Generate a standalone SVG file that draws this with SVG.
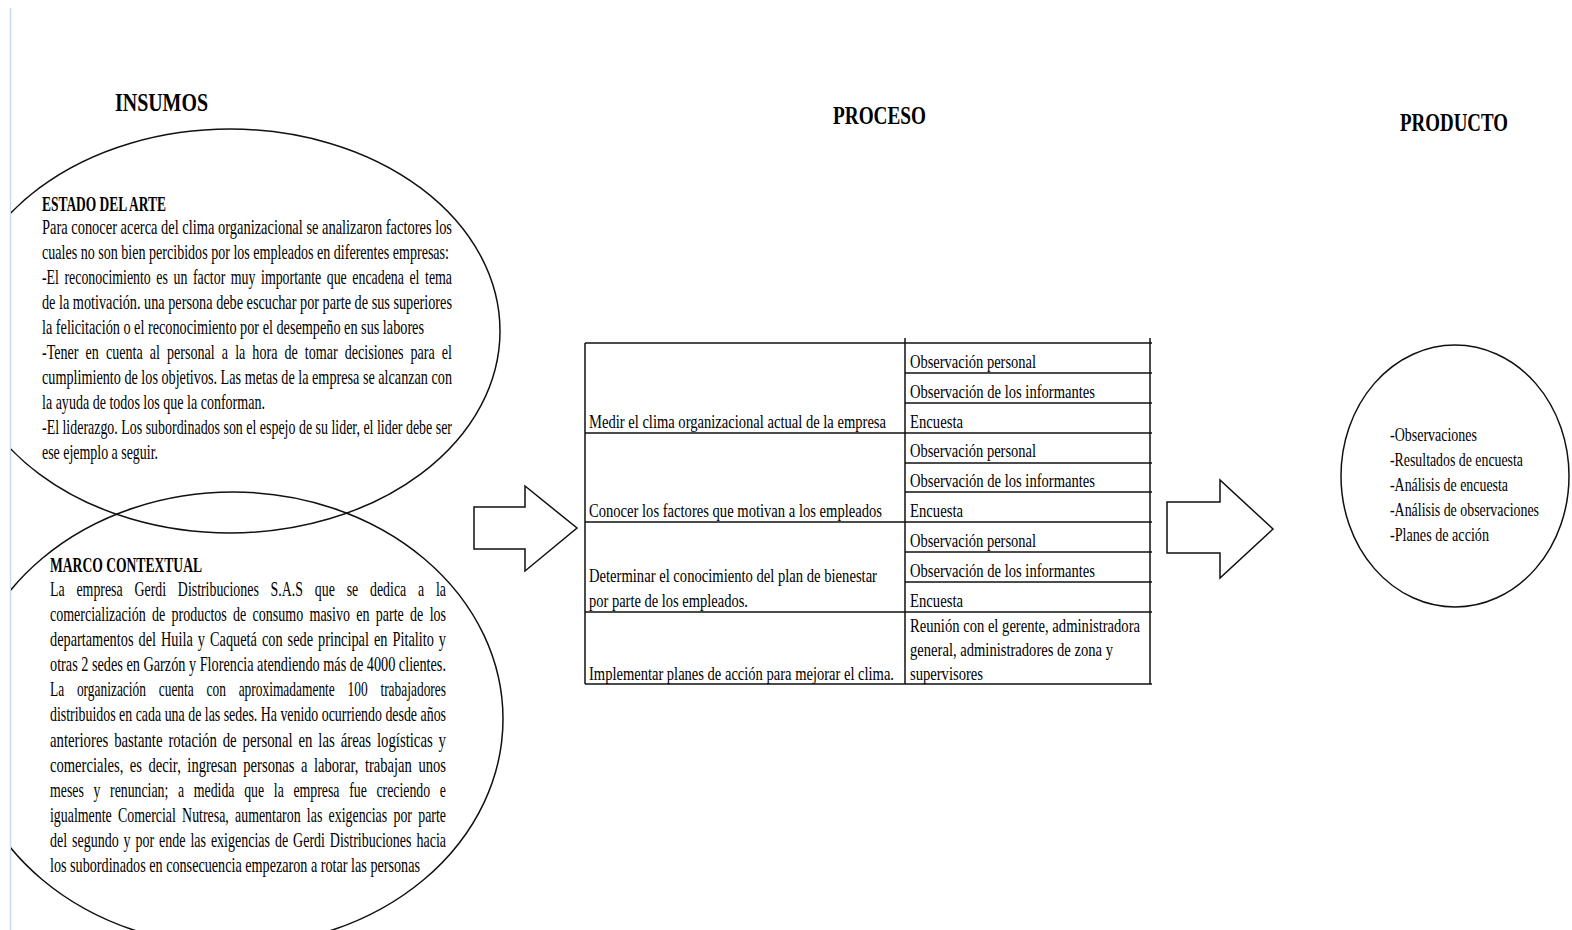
<svg xmlns="http://www.w3.org/2000/svg" width="1572" height="930" viewBox="0 0 1572 930">
<style>
text{font-family:"Liberation Serif","Times New Roman",serif;fill:#000}
.h{font-size:25px;font-weight:bold}
.t{font-size:20px;font-weight:bold}
.b{font-size:20px}
.c{font-size:19px}
.p{font-size:18px}
.sh{fill:#fff;stroke:#111;stroke-width:1.5}
.ln{stroke:#111;stroke-width:1.5;fill:none}
</style>
<defs>
<clipPath id="page"><rect x="11" y="0" width="1561" height="930"/></clipPath>
</defs>
<rect width="1572" height="930" fill="#fff"/>
<line x1="10.5" y1="8" x2="10.5" y2="930" stroke="#c9d8ec" stroke-width="1.5"/>

<g id="headings">
<text class="h" x="115" y="111" textLength="93" lengthAdjust="spacingAndGlyphs">INSUMOS</text>
<text class="h" x="833" y="124" textLength="93" lengthAdjust="spacingAndGlyphs">PROCESO</text>
<text class="h" x="1400" y="131" textLength="108" lengthAdjust="spacingAndGlyphs">PRODUCTO</text>
</g>

<g id="estado-del-arte">
<ellipse class="ln" cx="230" cy="331" rx="270" ry="202" clip-path="url(#page)"/>
<g transform="scale(0.75,1)">
<text class="t" x="56" y="211" textLength="165.33" lengthAdjust="spacingAndGlyphs">ESTADO DEL ARTE</text>
<text class="b" x="56" y="234" textLength="546.67" lengthAdjust="spacingAndGlyphs">Para conocer acerca del clima organizacional se analizaron factores los</text>
<text class="b" x="56" y="259" textLength="542.67" lengthAdjust="spacingAndGlyphs">cuales no son bien percibidos por los empleados en diferentes empresas:</text>
<text class="b" x="56" y="284" textLength="546.67" lengthAdjust="spacingAndGlyphs" word-spacing="3">-El reconocimiento es un factor muy importante que encadena el tema</text>
<text class="b" x="56" y="309" textLength="546.67" lengthAdjust="spacingAndGlyphs">de la motivación. una persona debe escuchar por parte de sus superiores</text>
<text class="b" x="56" y="334" textLength="509.33" lengthAdjust="spacingAndGlyphs">la felicitación o el reconocimiento por el desempeño en sus labores</text>
<text class="b" x="56" y="359" textLength="546.67" lengthAdjust="spacingAndGlyphs" word-spacing="5">-Tener en cuenta al personal a la hora de tomar decisiones para el</text>
<text class="b" x="56" y="384" textLength="546.67" lengthAdjust="spacingAndGlyphs">cumplimiento de los objetivos. Las metas de la empresa se alcanzan con</text>
<text class="b" x="56" y="409" textLength="297.33" lengthAdjust="spacingAndGlyphs">la ayuda de todos los que la conforman.</text>
<text class="b" x="56" y="434" textLength="546.67" lengthAdjust="spacingAndGlyphs">-El liderazgo. Los subordinados son el espejo de su lider, el lider debe ser</text>
<text class="b" x="56" y="459" textLength="154.67" lengthAdjust="spacingAndGlyphs">ese ejemplo a seguir.</text>
</g>
</g>

<g id="marco-contextual">
<ellipse class="ln" cx="233" cy="719" rx="270" ry="227" clip-path="url(#page)"/>
<g transform="scale(0.75,1)">
<text class="t" x="66.67" y="572" textLength="202.67" lengthAdjust="spacingAndGlyphs">MARCO CONTEXTUAL</text>
<text class="b" x="66.67" y="596" textLength="528" lengthAdjust="spacingAndGlyphs" word-spacing="12">La empresa Gerdi Distribuciones S.A.S que se dedica a la</text>
<text class="b" x="66.67" y="621" textLength="528" lengthAdjust="spacingAndGlyphs" word-spacing="4">comercialización de productos de consumo masivo en parte de los</text>
<text class="b" x="66.67" y="646" textLength="528" lengthAdjust="spacingAndGlyphs" word-spacing="2">departamentos del Huila y Caquetá con sede principal en Pitalito y</text>
<text class="b" x="66.67" y="671" textLength="528" lengthAdjust="spacingAndGlyphs">otras 2 sedes en Garzón y Florencia atendiendo más de 4000 clientes.</text>
<text class="b" x="66.67" y="696" textLength="528" lengthAdjust="spacingAndGlyphs" word-spacing="14">La organización cuenta con aproximadamente 100 trabajadores</text>
<text class="b" x="66.67" y="721" textLength="528" lengthAdjust="spacingAndGlyphs">distribuidos en cada una de las sedes. Ha venido ocurriendo desde años</text>
<text class="b" x="66.67" y="747" textLength="528" lengthAdjust="spacingAndGlyphs" word-spacing="3">anteriores bastante rotación de personal en las áreas logísticas y</text>
<text class="b" x="66.67" y="772" textLength="528" lengthAdjust="spacingAndGlyphs" word-spacing="4">comerciales, es decir, ingresan personas a laborar, trabajan unos</text>
<text class="b" x="66.67" y="797" textLength="528" lengthAdjust="spacingAndGlyphs" word-spacing="9">meses y renuncian; a medida que la empresa fue creciendo e</text>
<text class="b" x="66.67" y="822" textLength="528" lengthAdjust="spacingAndGlyphs" word-spacing="4">igualmente Comercial Nutresa, aumentaron las exigencias por parte</text>
<text class="b" x="66.67" y="847" textLength="528" lengthAdjust="spacingAndGlyphs" word-spacing="2">del segundo y por ende las exigencias de Gerdi Distribuciones hacia</text>
<text class="b" x="66.67" y="872" textLength="493.33" lengthAdjust="spacingAndGlyphs">los subordinados en consecuencia empezaron a rotar las personas</text>
</g>
</g>

<g id="connectors">
<polygon class="sh" points="474,507 525,507 525,486 577,528 525,571 525,549 474,549"/>
<polygon class="sh" points="1167,502 1220,502 1220,480 1273,529 1220,578 1220,553 1167,553"/>
</g>

<g id="proceso-table">
<g class="ln">
<line x1="585" y1="343" x2="1152" y2="343"/>
<line x1="585" y1="343" x2="585" y2="684"/>
<line x1="905" y1="338" x2="905" y2="684"/>
<line x1="1150" y1="338" x2="1150" y2="684"/>
<line x1="905" y1="373" x2="1152" y2="373"/>
<line x1="905" y1="403" x2="1152" y2="403"/>
<line x1="585" y1="433" x2="1152" y2="433"/>
<line x1="905" y1="463" x2="1152" y2="463"/>
<line x1="905" y1="492" x2="1152" y2="492"/>
<line x1="585" y1="522" x2="1152" y2="522"/>
<line x1="905" y1="552" x2="1152" y2="552"/>
<line x1="905" y1="582" x2="1152" y2="582"/>
<line x1="585" y1="612" x2="1152" y2="612"/>
<line x1="585" y1="684" x2="1152" y2="684"/>
</g>
<g transform="scale(0.75,1)">
<text class="c" x="785.33" y="428" textLength="396" lengthAdjust="spacingAndGlyphs">Medir el clima organizacional actual de la empresa</text>
<text class="c" x="1213.33" y="368" textLength="168" lengthAdjust="spacingAndGlyphs">Observación personal</text>
<text class="c" x="1213.33" y="398" textLength="246.67" lengthAdjust="spacingAndGlyphs">Observación de los informantes</text>
<text class="c" x="1213.33" y="428" textLength="70.67" lengthAdjust="spacingAndGlyphs">Encuesta</text>
<text class="c" x="785.33" y="517" textLength="390.67" lengthAdjust="spacingAndGlyphs">Conocer los factores que motivan a los empleados</text>
<text class="c" x="1213.33" y="457" textLength="168" lengthAdjust="spacingAndGlyphs">Observación personal</text>
<text class="c" x="1213.33" y="487" textLength="246.67" lengthAdjust="spacingAndGlyphs">Observación de los informantes</text>
<text class="c" x="1213.33" y="517" textLength="70.67" lengthAdjust="spacingAndGlyphs">Encuesta</text>
<text class="c" x="785.33" y="582" textLength="384" lengthAdjust="spacingAndGlyphs">Determinar el conocimiento del plan de bienestar</text>
<text class="c" x="785.33" y="607" textLength="212" lengthAdjust="spacingAndGlyphs">por parte de los empleados.</text>
<text class="c" x="1213.33" y="547" textLength="168" lengthAdjust="spacingAndGlyphs">Observación personal</text>
<text class="c" x="1213.33" y="577" textLength="246.67" lengthAdjust="spacingAndGlyphs">Observación de los informantes</text>
<text class="c" x="1213.33" y="607" textLength="70.67" lengthAdjust="spacingAndGlyphs">Encuesta</text>
<text class="c" x="785.33" y="680" textLength="406.67" lengthAdjust="spacingAndGlyphs">Implementar planes de acción para mejorar el clima.</text>
<text class="c" x="1213.33" y="632" textLength="306.67" lengthAdjust="spacingAndGlyphs">Reunión con el gerente, administradora</text>
<text class="c" x="1213.33" y="656" textLength="270.67" lengthAdjust="spacingAndGlyphs">general, administradores de zona y</text>
<text class="c" x="1213.33" y="680" textLength="97.33" lengthAdjust="spacingAndGlyphs">supervisores</text>
</g>
</g>

<g id="producto">
<ellipse class="ln" cx="1455" cy="476" rx="114" ry="131"/>
<g transform="scale(0.75,1)">
<text class="p" x="1853.33" y="441" textLength="116" lengthAdjust="spacingAndGlyphs">-Observaciones</text>
<text class="p" x="1853.33" y="466" textLength="177.33" lengthAdjust="spacingAndGlyphs">-Resultados de encuesta</text>
<text class="p" x="1853.33" y="491" textLength="157.33" lengthAdjust="spacingAndGlyphs">-Análisis de encuesta</text>
<text class="p" x="1853.33" y="516" textLength="198.67" lengthAdjust="spacingAndGlyphs">-Análisis de observaciones</text>
<text class="p" x="1853.33" y="541" textLength="132" lengthAdjust="spacingAndGlyphs">-Planes de acción</text>
</g>
</g>
</svg>
